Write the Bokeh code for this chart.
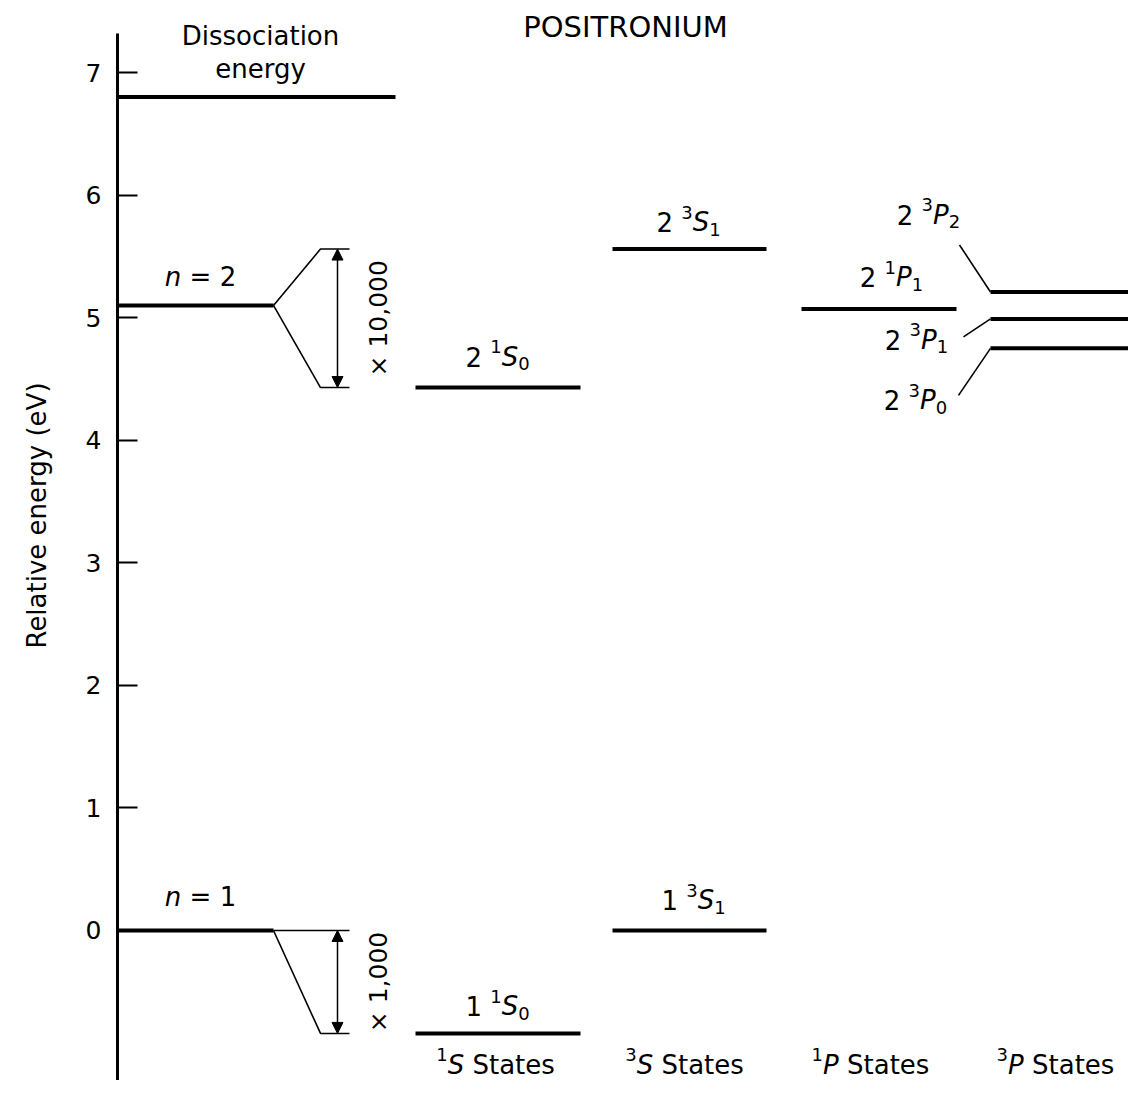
import math
from bokeh.plotting import figure
from bokeh.models import Range1d, LinearAxis, FixedTicker, Arrow, NormalHead, ColumnDataSource
from bokeh.core.properties import value
from bokeh.embed import file_html
from bokeh.resources import INLINE

# ---------------- data ----------------
energy_ticks = [0, 1, 2, 3, 4, 5, 6, 7]
dissociation_energy = 6.8
principal_n = [1, 2]
principal_energy = [0.0, 5.1]          # n = 1, n = 2 (gross levels)

singlet_S_n = [1, 2]
singlet_S_energy = [-0.84, 4.43]       # 1 1S0, 2 1S0
triplet_S_n = [1, 2]
triplet_S_energy = [0.0, 5.56]         # 1 3S1, 2 3S1
singlet_P_n = [2]
singlet_P_energy = [5.07]              # 2 1P1
triplet_P_J = [2, 1, 0]
triplet_P_energy = [5.21, 4.99, 4.75]  # 2 3P2, 2 3P1, 2 3P0
magnification_text = ["\u00d7 1,000", "\u00d7 10,000"]
column_multiplicity = ["1", "3", "1", "3"]
column_letter = ["S", "S", "P", "P"]
title_text = "POSITRONIUM"
y_label_text = "Relative energy (eV)"
dissociation_text = ["Dissociation", "energy"]

# ---------------- layout / style ----------------
W, H = 1128, 1080
X0, X1 = 0, 1128              # x data units = page pixels
Y0, Y1 = -1.224, 7.588        # energy at bottom / top of the page
PX = H / (Y1 - Y0)            # pixels per eV
AX_HI = 7.319                 # top of the drawn energy axis
YLAB_C = 3.386                # centre of the axis title

def up(E, px):
    return E + px / PX

FONT = "DejaVu Sans"
FS = 26
SMALL = 18
THICK = 4
THIN = 1.6

AX_X = 117
N_END = 273
FAN_X = 320
FAN_END = 349
ARROW_X = 337
MAG_X = 378
DISS_END = 395
COL_1S = (415, 580)
COL_3S = (612, 766)
COL_1P = (801, 956)
COL_3P = (990, 1128)

EM = {" ": .318, "S": .635, "P": .603, "n": .634, "=": .838, "t": .392,
      "a": .613, "e": .615, "s": .521}
for d in "0123456789":
    EM[d] = .636

def width(t, fs):
    return sum(EM.get(c, .6) for c in t) * fs

pieces = {k: dict(x=[], y=[], text=[]) for k in ("normal", "italic", "small")}

def add_parts(cx, E, rise_px, parts):
    sizes = {"n": FS, "it": FS, "sup": SMALL, "sub": SMALL}
    shift = {"n": 0, "it": 0, "sup": 10, "sub": -7}
    style = {"n": "normal", "it": "italic", "sup": "small", "sub": "small"}
    total = sum(width(t, sizes[k]) for t, k in parts)
    x = cx - total / 2
    for t, k in parts:
        lead = len(t) - len(t.lstrip(" "))
        s = t.strip(" ")
        d = pieces[style[k]]
        d["x"].append(x + width(" " * lead, sizes[k]))
        d["y"].append(up(E, rise_px + shift[k]))
        d["text"].append(s)
        x += width(t, sizes[k])

p = figure(width=W, height=H, x_range=Range1d(X0, X1), y_range=Range1d(Y0, Y1),
           output_backend="svg", toolbar_location=None,
           x_axis_location=None, y_axis_location=None,
           min_border_left=0, min_border_right=0, min_border_top=0, min_border_bottom=0)
p.outline_line_color = None
p.background_fill_color = "white"
p.border_fill_color = "white"
p.grid.visible = False

yaxis = LinearAxis(ticker=FixedTicker(ticks=energy_ticks), bounds=(Y0, AX_HI),
                   fixed_location=AX_X,
                   major_tick_in=20, major_tick_out=0, minor_tick_line_color=None,
                   axis_line_width=3, major_tick_line_width=2,
                   major_label_text_font=FONT, major_label_text_font_size="25px",
                   major_label_standoff=16, major_label_text_color="black",
                   axis_line_color="black", major_tick_line_color="black")
p.add_layout(yaxis, "left")

p.text(x=[36], y=[YLAB_C], text=[y_label_text], angle=math.pi / 2, text_align="center",
       text_baseline="middle", text_font=value(FONT), text_font_size="26px",
       text_color="black")

# ---- thick level lines ----
seg = dict(x0=[], x1=[], y=[])
def level(xs, E):
    seg["x0"].append(xs[0]); seg["x1"].append(xs[1]); seg["y"].append(E)

level((AX_X, DISS_END), dissociation_energy)
for E in principal_energy:
    level((AX_X, N_END), E)
for E in singlet_S_energy:
    level(COL_1S, E)
for E in triplet_S_energy:
    level(COL_3S, E)
for E in singlet_P_energy:
    level(COL_1P, E)
for E in triplet_P_energy:
    level(COL_3P, E)
p.segment(x0="x0", y0="y", x1="x1", y1="y", source=ColumnDataSource(seg),
          line_width=THICK, line_color="black")

# ---- thin fan-out lines and magnification arrows ----
for i, En in enumerate(principal_energy):
    Et = triplet_S_energy[i]
    Es = singlet_S_energy[i]
    p.line([N_END, FAN_X, FAN_END], [En, Et, Et], line_width=THIN, line_color="black")
    p.line([N_END, FAN_X, FAN_END], [En, Es, Es], line_width=THIN, line_color="black")
    p.add_layout(Arrow(x_start=ARROW_X, y_start=Es, x_end=ARROW_X, y_end=Et,
                       line_width=1.5, line_color="black",
                       start=NormalHead(size=11, fill_color="black", line_color="black"),
                       end=NormalHead(size=11, fill_color="black", line_color="black")))
p.text(x=[MAG_X, MAG_X],
       y=[(triplet_S_energy[i] + singlet_S_energy[i]) / 2 for i in range(2)],
       text=magnification_text, angle=math.pi / 2, text_align="center",
       text_baseline="middle", text_font=value(FONT), text_font_size="25px",
       text_color="black")

# ---- 3P connectors ----
conn_start = {2: (959, 47), 1: (963, -18), 0: (958, -47)}
for J, E in zip(triplet_P_J, triplet_P_energy):
    sx, rise = conn_start[J]
    p.line([sx, COL_3P[0]], [up(E, rise), E], line_width=THIN, line_color="black")

# ---- term labels ----
def term(n, mult, letter, J):
    return [(f"{n} ", "n"), (mult, "sup"), (letter, "it"), (str(J), "sub")]

for n, E, cx, r in zip(singlet_S_n, singlet_S_energy, [497, 497], [27, 31]):
    add_parts(cx, E, r, term(n, "1", "S", 0))
for n, E, cx, r in zip(triplet_S_n, triplet_S_energy, [693, 688], [30, 27]):
    add_parts(cx, E, r, term(n, "3", "S", 1))
for n, E in zip(singlet_P_n, singlet_P_energy):
    add_parts(891, E, 32, term(n, "1", "P", 1))
p3_label = {2: (928, 77), 1: (916, -21), 0: (915, -52)}
for J, E in zip(triplet_P_J, triplet_P_energy):
    cx, rise = p3_label[J]
    add_parts(cx, E, rise, term(2, "3", "P", J))

for n, E, r in zip(principal_n, principal_energy, [33, 28]):
    add_parts(200, E, r, [("n", "it"), (f" = {n}", "n")])

# column captions along the bottom
for m, L, cx in zip(column_multiplicity, column_letter, [495, 684, 870, 1055]):
    add_parts(cx, Y0, 16, [(m, "sup"), (L, "it"), (" States", "n")])

p.text(x="x", y="y", text="text", source=ColumnDataSource(pieces["normal"]),
       text_font=value(FONT), text_font_size=f"{FS}px", text_baseline="alphabetic",
       text_align="left", text_color="black")
p.text(x="x", y="y", text="text", source=ColumnDataSource(pieces["italic"]),
       text_font=value(FONT), text_font_size=f"{FS}px", text_font_style="italic",
       text_baseline="alphabetic", text_align="left", text_color="black")
p.text(x="x", y="y", text="text", source=ColumnDataSource(pieces["small"]),
       text_font=value(FONT), text_font_size=f"{SMALL}px", text_baseline="alphabetic",
       text_align="left", text_color="black")

# dissociation caption and title
p.text(x=[260, 260], y=[up(dissociation_energy, 61), up(dissociation_energy, 28)],
       text=dissociation_text, text_align="center", text_baseline="alphabetic",
       text_font=value(FONT), text_font_size="26px", text_color="black")
p.text(x=[625], y=[Y1 - 26 / PX], text=[title_text], text_align="center",
       text_baseline="alphabetic", text_font=value(FONT), text_font_size="29px",
       text_color="black")

open("out.html", "w").write(file_html(p, INLINE))
